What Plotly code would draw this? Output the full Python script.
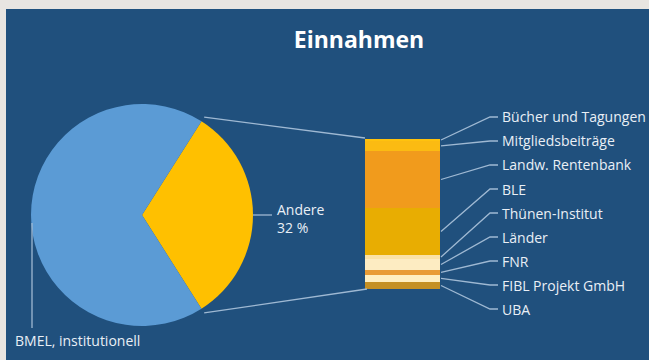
import plotly.graph_objects as go
import math

W, H = 649, 360

# ---- data ----
pie_labels = ["Andere", "BMEL, institutionell"]
pie_values = [32, 68]
pie_colors = ["#ffc000", "#5b9bd5"]

# composition of "Andere" (top to bottom), percent of the slice
bar_labels = ["Bücher und Tagungen", "Mitgliedsbeiträge", "Landw. Rentenbank", "BLE",
              "Thünen-Institut", "Länder", "FNR", "FIBL Projekt GmbH", "UBA"]
bar_values = [1.3, 6.7, 38.0, 31.3, 2.7, 7.3, 3.3, 4.7, 4.7]
bar_colors = ["#ffc20e", "#fbbb12", "#f19b1c", "#e8ad02", "#fbe2a6", "#fdecc2",
              "#e99c34", "#ffefc0", "#c49023"]

title_text = "Einnahmen"

# ---- layout helpers (pixel -> paper) ----
def px(x):
    return x / W

def py(y):
    return 1 - y / H

BG = "#20507d"
LINE = "#9fb9d3"
TXT = "#e9eff6"
FONT = "Open Sans"
FS = 14

# pie geometry
cx, cy, r = 142, 215, 111
# bar geometry
bx0, bx1, by0, by1 = 365, 440, 139, 289

fig = go.Figure()

fig.add_trace(go.Pie(
    labels=pie_labels, values=pie_values, sort=False, direction="clockwise",
    rotation=90 - pie_values[0] * 1.8,
    marker=dict(colors=pie_colors, line=dict(width=0)),
    textinfo="none", hoverinfo="label+value", showlegend=False,
    domain=dict(x=[px(cx - r), px(cx + r)], y=[py(cy + r), py(cy - r)]),
))

# stacked bar: bottom first
for lab, val, col in reversed(list(zip(bar_labels, bar_values, bar_colors))):
    fig.add_trace(go.Bar(
        x=["Andere"], y=[val], name=lab, marker=dict(color=col, line=dict(width=0)),
        showlegend=False, hoverinfo="name+y", xaxis="x", yaxis="y",
    ))

shapes = []
annotations = []

# beige frame at top and left
shapes.append(dict(type="rect", xref="paper", yref="paper", x0=0, x1=1, y0=py(9), y1=1,
                   fillcolor="#e8e5e1", line=dict(width=0), layer="above"))
shapes.append(dict(type="rect", xref="paper", yref="paper", x0=0, x1=px(6), y0=0, y1=1,
                   fillcolor="#e8e5e1", line=dict(width=0), layer="above"))

a0 = math.radians(90 - pie_values[0] * 1.8)
a1 = math.radians(90 + pie_values[0] * 1.8)
rr = r + 5
p_top = (cx + rr * math.sin(a0), cy - rr * math.cos(a0))
p_bot = (cx + rr * math.sin(a1), cy - rr * math.cos(a1))
shapes.append(dict(type="line", xref="paper", yref="paper", x0=px(p_top[0]), y0=py(p_top[1]),
                   x1=px(bx0), y1=py(by0 - 1), line=dict(color=LINE, width=1.3)))
shapes.append(dict(type="line", xref="paper", yref="paper", x0=px(p_bot[0]), y0=py(p_bot[1]),
                   x1=px(bx0 + 2), y1=py(by1), line=dict(color=LINE, width=1.3)))

# Andere label
shapes.append(dict(type="line", xref="paper", yref="paper", x0=px(cx + r), y0=py(cy),
                   x1=px(cx + r + 19), y1=py(cy), line=dict(color=LINE, width=1.3)))
annotations.append(dict(x=px(275), y=py(219), xref="paper", yref="paper", xanchor="left",
                        yanchor="middle", showarrow=False, align="left",
                        text=f"{pie_labels[0]}<br>{pie_values[0]} %",
                        font=dict(family=FONT, size=FS, color=TXT)))

# BMEL label
shapes.append(dict(type="line", xref="paper", yref="paper", x0=px(cx - r + 1), y0=py(cy + 8),
                   x1=px(cx - r + 1), y1=py(328), line=dict(color=LINE, width=1.3)))
annotations.append(dict(x=px(13), y=py(340), xref="paper", yref="paper", xanchor="left",
                        yanchor="middle", showarrow=False, text=pie_labels[1],
                        font=dict(family=FONT, size=FS, color=TXT)))

# bar leader lines + labels
tot = sum(bar_values)
acc = 0
for i, (lab, val) in enumerate(zip(bar_labels, bar_values)):
    mid = by0 + (acc + val / 2) / tot * (by1 - by0)
    acc += val
    ly = 117 + 24 * i
    path = (f"M {px(bx1 + 1)},{py(mid)} L {px(490)},{py(ly)} L {px(498)},{py(ly)}")
    shapes.append(dict(type="path", xref="paper", yref="paper", path=path,
                       line=dict(color=LINE, width=1.3)))
    annotations.append(dict(x=px(500), y=py(ly), xref="paper", yref="paper", xanchor="left",
                            yanchor="middle", showarrow=False, text=lab,
                            font=dict(family=FONT, size=FS, color=TXT)))

fig.update_layout(
    width=W, height=H, margin=dict(l=0, r=0, t=0, b=0, pad=0),
    paper_bgcolor=BG, plot_bgcolor="rgba(0,0,0,0)",
    barmode="stack", bargap=0,
    xaxis=dict(domain=[px(bx0), px(bx1)], visible=False, fixedrange=True),
    yaxis=dict(domain=[py(by1), py(by0)], range=[0, tot], visible=False, fixedrange=True),
    title=dict(text=title_text, x=px(359), xanchor="center", y=py(40), yanchor="middle",
               font=dict(family=FONT, size=23, color="#ffffff", weight="bold")),
    shapes=shapes, annotations=annotations,
)

fig.write_html("out.html")
